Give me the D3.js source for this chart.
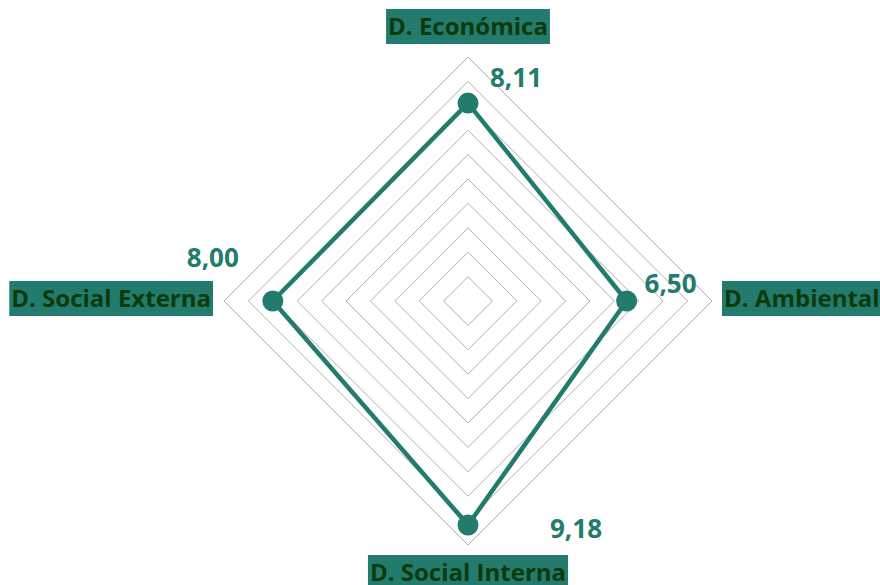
<!DOCTYPE html>
<html>
<head>
<meta charset="utf-8">
<script src="https://cdn.jsdelivr.net/npm/d3@7"></script>
<style>
  html, body { margin: 0; padding: 0; background: #fff; }
  svg { display: block; }
</style>
</head>
<body>
<svg id="chart" width="880" height="585"></svg>
<script>
// Dimensions, clockwise from the top
const categories = ["D. Económica", "D. Ambiental", "D. Social Interna", "D. Social Externa"];
const values = [8.11, 6.50, 9.18, 8.00];
const valueLabels = ["8,11", "6,50", "9,18", "8,00"];
const ringTicks = [1, 2, 3, 4, 5, 6, 7, 8, 9, 10];

const W = 880, H = 585;
const cx = 468, cy = 301, R = 244;
const teal = "#237b6e";
const darkText = "#0b3a0b";

const svg = d3.select("#chart");
const r = d3.scaleLinear().domain([0, 10]).range([0, R]);
const angle = d3.scaleBand().domain(categories).range([0, 2 * Math.PI]).align(0).paddingInner(0).paddingOuter(0);
const ang = c => angle(c);

const pt = (c, v) => [cx + r(v) * Math.sin(ang(c)), cy - r(v) * Math.cos(ang(c))];

// Concentric grid rings
const ringLine = d3.line();
svg.append("g").selectAll("path").data(ringTicks).join("path")
  .attr("d", t => ringLine(categories.map(c => pt(c, t))) + "Z")
  .attr("fill", "none")
  .attr("stroke", "#9a9a9a")
  .attr("stroke-width", 0.8);

// Series polygon
const series = categories.map((c, i) => ({ c, v: values[i], label: valueLabels[i] }));
svg.append("path")
  .attr("d", d3.line()(series.map(d => pt(d.c, d.v))) + "Z")
  .attr("fill", "none")
  .attr("stroke", teal)
  .attr("stroke-width", 4.5)
  .attr("stroke-linejoin", "round");

svg.append("g").selectAll("circle").data(series).join("circle")
  .attr("cx", d => pt(d.c, d.v)[0])
  .attr("cy", d => pt(d.c, d.v)[1])
  .attr("r", 10.5)
  .attr("fill", teal);

// Value labels, offset from each marker
const valueOffsets = [
  { dx: 22, dy: -16, anchor: "start" },
  { dx: 18, dy: -8, anchor: "start" },
  { dx: 82, dy: 13, anchor: "start" },
  { dx: -34, dy: -34, anchor: "end" }
];
svg.append("g").selectAll("text").data(series).join("text")
  .attr("x", (d, i) => pt(d.c, d.v)[0] + valueOffsets[i].dx)
  .attr("y", (d, i) => pt(d.c, d.v)[1] + valueOffsets[i].dy)
  .attr("text-anchor", (d, i) => valueOffsets[i].anchor)
  .attr("font-family", "'Open Sans', sans-serif")
  .attr("font-weight", 700)
  .attr("font-size", 26)
  .attr("fill", teal)
  .text(d => d.label);

// Category labels in filled boxes, placed beyond the outer ring
const labelPlace = [
  { x: cx, y: cy - R - 22, anchor: "middle" },
  { x: cx + R + 12, y: cy + 6, anchor: "start" },
  { x: cx, y: cy + R + 36, anchor: "middle" },
  { x: cx - R - 13, y: cy + 6, anchor: "end" }
];
const lab = svg.append("g").selectAll("g").data(categories).join("g");
lab.each(function (c, i) {
  const g = d3.select(this);
  const p = labelPlace[i];
  const rect = g.append("rect").attr("fill", teal);
  const t = g.append("text")
    .attr("x", p.x)
    .attr("y", p.y)
    .attr("text-anchor", p.anchor)
    .attr("font-family", "'Open Sans', sans-serif")
    .attr("font-weight", 700)
    .attr("font-size", 24)
    .attr("fill", darkText)
    .text(c);
  const bb = t.node().getBBox();
  rect.attr("x", bb.x - 2)
    .attr("y", p.y - 26)
    .attr("width", bb.width + 4)
    .attr("height", 35);
});
</script>
</body>
</html>
